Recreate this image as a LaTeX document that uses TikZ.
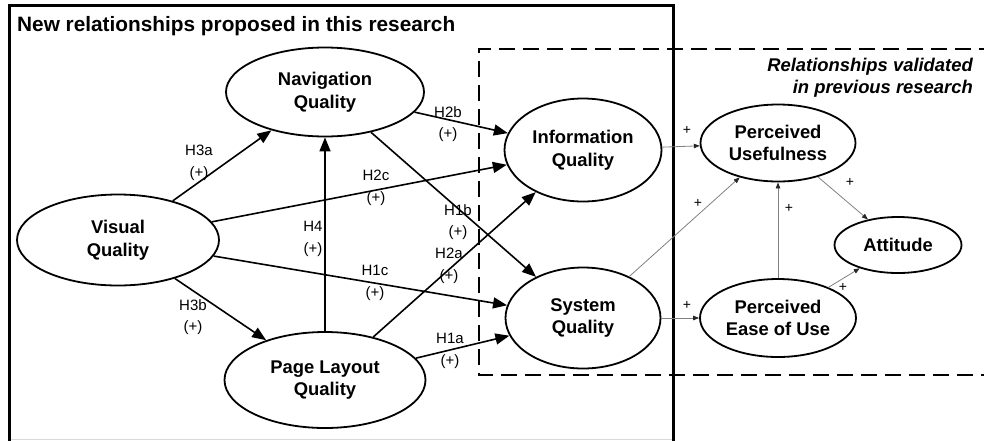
\documentclass[tikz,border=0pt]{standalone}
\usepackage{fontspec}
\setmainfont{Liberation Sans}
\usepackage{tikz}
\usetikzlibrary{shapes.geometric, arrows.meta}

\begin{document}
\begin{tikzpicture}[x=1pt, y=-1pt,
        construct/.style={draw, ellipse, line width=1.8pt, inner sep=0pt, align=center, font=\bfseries\fontsize{18.4}{22.5}\selectfont},
        hyp/.style={align=center, inner sep=0pt, font=\fontsize{15}{21.5}\selectfont},
        plus/.style={inner sep=0pt, font=\fontsize{14}{15}\selectfont},
        arrow/.style={-{Triangle[length=14pt, width=11pt]}, line width=1.6pt},
        thin/.style={-{Triangle[length=6pt, width=4.5pt, color=black!85]}, line width=0.8pt, draw=black!50},
        frame/.style={line width=3.2pt},
        region/.style={line width=1.8pt, dash pattern=on 16pt off 8pt}
    ]
    \useasboundingbox (0, 0) rectangle (984, 440);
    \clip (0, 0) rectangle (984, 440);

    % regions
    \draw [frame] (9.8, 450) |- (673.5, 5.5) -- (673.5, 450);
    \draw [gray!30, line width=0.8pt] (11, 439) -- (672, 439);
    \draw [region] (995, 49) -| (479, 375) -- (995, 375);
    \node (newtitle) at (17, 31) [anchor=base west, inner sep=0pt, font=\bfseries\fontsize{20.8}{24}\selectfont] {New relationships proposed in this research};
    \node (oldtitle) at (973, 58) [anchor=north east, inner sep=0pt, align=right, font=\bfseries\itshape\fontsize{18.4}{22}\selectfont] {Relationships validated\\in previous research};

    % constructs
    \node (vis) at (118, 240) [construct, minimum width=202pt, minimum height=91pt] {Visual\\Quality};
    \node (nav) at (325, 92) [construct, minimum width=198pt, minimum height=89pt] {Navigation\\Quality};
    \node (plq) at (325, 380) [construct, minimum width=201pt, minimum height=96pt] {Page Layout\\Quality};
    \node (info) at (583, 150) [construct, minimum width=157pt, minimum height=103pt] {Information\\Quality};
    \node (sys) at (583, 318) [construct, minimum width=155pt, minimum height=101pt] {System\\Quality};
    \node (pu) at (778, 143) [construct, minimum width=155pt, minimum height=77pt] {Perceived\\Usefulness};
    \node (peou) at (778, 318) [construct, minimum width=156pt, minimum height=78pt] {Perceived\\Ease of Use};
    \node (att) at (898, 245) [construct, minimum width=127pt, minimum height=56pt] {Attitude};

    % hypotheses
    \draw [arrow] (vis) -- (nav);
    \draw [arrow] (vis) -- (plq);
    \draw [arrow] (vis) -- (info);
    \draw [arrow] (vis) -- (sys);
    \draw [arrow] (plq) -- (nav);
    \draw [arrow] (nav) -- (info);
    \draw [arrow] (nav) -- (sys);
    \draw [arrow] (plq) -- (info);
    \draw [arrow] (plq) -- (sys);

    \node (h3a) at (199, 163) [hyp] {H3a\\(+)};
    \node (h3b) at (193, 317) [hyp] {H3b\\(+)};
    \node (h2c) at (376, 188) [hyp] {H2c\\(+)};
    \node (h1c) at (375, 283) [hyp] {H1c\\(+)};
    \node (h4) at (313, 239) [hyp] {H4\\(+)};
    \node (h2b) at (448, 124) [hyp] {H2b\\(+)};
    \node (h1b) at (458, 222) [hyp] {H1b\\(+)};
    \node (h2a) at (449, 266) [hyp] {H2a\\(+)};
    \node (h1a) at (450, 351) [hyp] {H1a\\(+)};

    % earlier model
    \draw [thin] (info) -- (pu);
    \draw [thin] (sys) -- (pu);
    \draw [thin] (sys) -- (peou);
    \draw [thin] (peou) -- (pu);
    \draw [thin] (pu) -- (att);
    \draw [thin] (peou) -- (att);

    \node (p1) at (687, 130) [plus] {+};
    \node (p2) at (698, 203) [plus] {+};
    \node (p3) at (687, 305) [plus] {+};
    \node (p4) at (789, 208) [plus] {+};
    \node (p5) at (850, 182) [plus] {+};
    \node (p6) at (843, 287) [plus] {+};

\end{tikzpicture}
\end{document}
